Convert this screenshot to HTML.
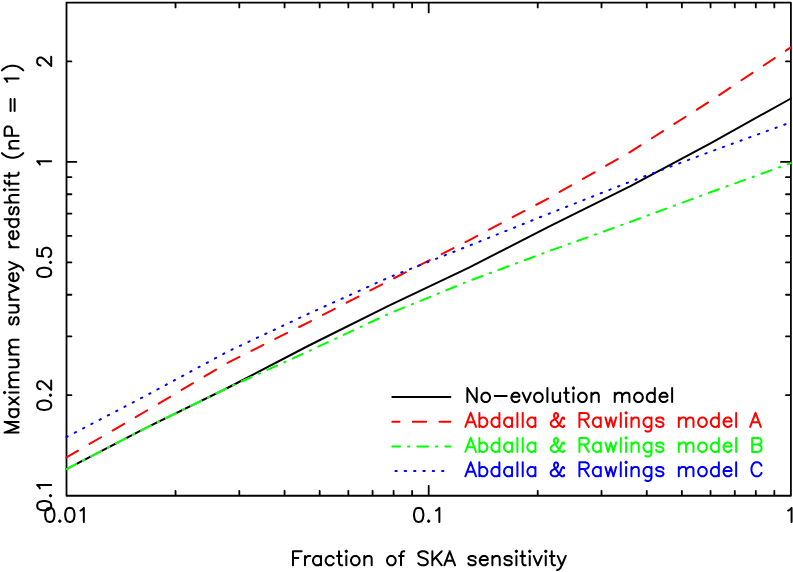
<!DOCTYPE html>
<html lang="en"><head><meta charset="utf-8"><title>Maximum survey redshift vs fraction of SKA sensitivity</title>
<style>html,body{margin:0;padding:0;background:#fff}body{width:793px;height:572px;overflow:hidden;font-family:"Liberation Sans",sans-serif}svg{display:block}.t{font-family:"Liberation Sans",sans-serif;fill:#000;fill-opacity:0;stroke:none}</style></head><body>
<svg width="793" height="572" viewBox="0 0 793 572">
<rect width="793" height="572" fill="#fff"/>
<path d="M66.5 2.55H790.9V495.75H66.5ZM175.53 495.75v-4.9M175.53 2.55v4.9M239.31 495.75v-4.9M239.31 2.55v4.9M284.57 495.75v-4.9M284.57 2.55v4.9M319.67 495.75v-4.9M319.67 2.55v4.9M348.35 495.75v-4.9M348.35 2.55v4.9M372.59 495.75v-4.9M372.59 2.55v4.9M393.6 495.75v-4.9M393.6 2.55v4.9M412.13 495.75v-4.9M412.13 2.55v4.9M428.7 495.75v-9.9M428.7 2.55v9.9M537.73 495.75v-4.9M537.73 2.55v4.9M601.51 495.75v-4.9M601.51 2.55v4.9M646.77 495.75v-4.9M646.77 2.55v4.9M681.87 495.75v-4.9M681.87 2.55v4.9M710.55 495.75v-4.9M710.55 2.55v4.9M734.79 495.75v-4.9M734.79 2.55v4.9M755.8 495.75v-4.9M755.8 2.55v4.9M774.33 495.75v-4.9M774.33 2.55v4.9M66.5 395.22h4.9M790.9 395.22h-4.9M66.5 336.44h4.9M790.9 336.44h-4.9M66.5 294.73h4.9M790.9 294.73h-4.9M66.5 262.38h4.9M790.9 262.38h-4.9M66.5 235.95h4.9M790.9 235.95h-4.9M66.5 213.61h4.9M790.9 213.61h-4.9M66.5 194.25h4.9M790.9 194.25h-4.9M66.5 177.17h4.9M790.9 177.17h-4.9M66.5 161.9h9.9M790.9 161.9h-9.9M66.5 61.42h4.9M790.9 61.42h-4.9" fill="none" stroke="#000" stroke-width="1.8" stroke-linecap="round" stroke-linejoin="round"/>
<defs><clipPath id="c"><rect x="66.5" y="2.55" width="724.4" height="493.2"/></clipPath></defs>
<g fill="none" stroke-width="2" stroke-linecap="round" stroke-linejoin="round">
<mask id="m" maskUnits="userSpaceOnUse" x="0" y="0" width="793" height="572"><rect width="793" height="572" fill="#fff"/><path d="M66.5 469.1L146.99 427.4L227.48 388L307.97 351.5L388.46 313.9L468.94 281L549.43 251L629.92 222L710.41 192.3L790.9 163.1" stroke="#000" stroke-dasharray="10.67 8 1.33 8"/></mask>
<path d="M66.5 469.1L146.99 427.4L227.48 388L307.97 346L388.46 305.8L468.94 267.6L549.43 226.3L629.92 186.3L710.41 143.3L790.9 98.5" stroke="#000" mask="url(#m)"/>
<path d="M66.5 457.4L146.99 410.5L227.48 362.8L307.97 322.6L388.46 281.1L468.94 240.3L549.43 197.8L629.92 152.2L710.41 101L790.9 47.3" stroke="#f00" stroke-dasharray="13.34 13.34"/>
<path d="M66.5 469.1L146.99 427.4L227.48 388L307.97 351.5L388.46 313.9L468.94 281L549.43 251L629.92 222L710.41 192.3L790.9 163.1" stroke="#0f0" stroke-dasharray="10.67 8 1.33 8"/>
<path d="M66.5 437L146.99 395.1L227.48 351.7L307.97 314L388.46 277.6L468.94 245.8L549.43 213.5L629.92 181.8L710.41 151.7L790.9 122.3" stroke="#00f" stroke-dasharray="1.33 8"/>
</g>
<g fill="none" stroke-width="2" stroke-linecap="round">
<path d="M392.3 397H450.4" stroke="#000"/>
<path d="M392.3 421.7H450.4" stroke="#f00" stroke-dasharray="13.34 13.34" stroke-dashoffset="6.2"/>
<path d="M392.3 446.6H450.4" stroke="#0f0" stroke-dasharray="10.67 8 1.33 8" stroke-dashoffset="3"/>
<path d="M392.3 471H450.4" stroke="#00f" stroke-dasharray="1.33 8" stroke-dashoffset="6.2"/>
</g>
<g fill="none" stroke-width="2" stroke-linecap="round" stroke-linejoin="round">
<path d="M49.16 507.89L47.16 508.56L45.82 510.56L45.16 513.9L45.16 515.9L45.82 519.23L47.16 521.23L49.16 521.9L50.49 521.9L52.49 521.23L53.83 519.23L54.49 515.9L54.49 513.9L53.83 510.56L52.49 508.56L50.49 507.89L49.16 507.89M59.83 520.57L59.16 521.23L59.83 521.9L60.5 521.23L59.83 520.57M69.17 507.89L67.17 508.56L65.83 510.56L65.17 513.9L65.17 515.9L65.83 519.23L67.17 521.23L69.17 521.9L70.5 521.9L72.5 521.23L73.84 519.23L74.5 515.9L74.5 513.9L73.84 510.56L72.5 508.56L70.5 507.89L69.17 507.89M80.51 510.56L81.84 509.89L83.84 507.89L83.84 521.9" stroke="#000"/>
<path d="M418.03 507.89L416.03 508.56L414.69 510.56L414.03 513.9L414.03 515.9L414.69 519.23L416.03 521.23L418.03 521.9L419.36 521.9L421.36 521.23L422.7 519.23L423.36 515.9L423.36 513.9L422.7 510.56L421.36 508.56L419.36 507.89L418.03 507.89M428.7 520.57L428.03 521.23L428.7 521.9L429.37 521.23L428.7 520.57M436.04 510.56L437.37 509.89L439.37 507.89L439.37 521.9" stroke="#000"/>
<path d="M788.23 510.56L789.57 509.89L791.57 507.89L791.57 521.9" stroke="#000"/>
<path d="M37.19 506.37L37.86 508.37L39.86 509.71L43.2 510.37L45.2 510.37L48.53 509.71L50.53 508.37L51.2 506.37L51.2 505.04L50.53 503.04L48.53 501.7L45.2 501.04L43.2 501.04L39.86 501.7L37.86 503.04L37.19 505.04L37.19 506.37M49.87 495.7L50.53 496.37L51.2 495.7L50.53 495.03L49.87 495.7M39.86 488.36L39.19 487.03L37.19 485.03L51.2 485.03" stroke="#000"/>
<path d="M37.19 405.89L37.86 407.89L39.86 409.22L43.2 409.89L45.2 409.89L48.53 409.22L50.53 407.89L51.2 405.89L51.2 404.55L50.53 402.55L48.53 401.22L45.2 400.55L43.2 400.55L39.86 401.22L37.86 402.55L37.19 404.55L37.19 405.89M49.87 395.22L50.53 395.88L51.2 395.22L50.53 394.55L49.87 395.22M40.53 389.21L39.86 389.21L38.53 388.55L37.86 387.88L37.19 386.55L37.19 383.88L37.86 382.54L38.53 381.88L39.86 381.21L41.2 381.21L42.53 381.88L44.53 383.21L51.2 389.88L51.2 380.54" stroke="#000"/>
<path d="M37.19 273.06L37.86 275.06L39.86 276.39L43.2 277.06L45.2 277.06L48.53 276.39L50.53 275.06L51.2 273.06L51.2 271.72L50.53 269.72L48.53 268.39L45.2 267.72L43.2 267.72L39.86 268.39L37.86 269.72L37.19 271.72L37.19 273.06M49.87 262.38L50.53 263.05L51.2 262.38L50.53 261.72L49.87 262.38M37.19 249.04L37.19 255.71L43.2 256.38L42.53 255.71L41.86 253.71L41.86 251.71L42.53 249.71L43.86 248.38L45.86 247.71L47.2 247.71L49.2 248.38L50.53 249.71L51.2 251.71L51.2 253.71L50.53 255.71L49.87 256.38L48.53 257.05" stroke="#000"/>
<path d="M39.86 164.57L39.19 163.23L37.19 161.23L51.2 161.23" stroke="#000"/>
<path d="M40.53 65.42L39.86 65.42L38.53 64.75L37.86 64.08L37.19 62.75L37.19 60.08L37.86 58.75L38.53 58.08L39.86 57.41L41.2 57.41L42.53 58.08L44.53 59.42L51.2 66.09L51.2 56.75" stroke="#000"/>
<path d="M292.97 551.29L292.97 565.3M292.97 551.29L301.64 551.29M292.97 557.96L298.3 557.96M304.97 555.96L304.97 565.3M304.97 559.96L305.64 557.96L306.97 556.63L308.31 555.96L310.31 555.96M320.98 555.96L320.98 565.3M320.98 557.96L319.65 556.63L318.31 555.96L316.31 555.96L314.98 556.63L313.64 557.96L312.98 559.96L312.98 561.3L313.64 563.3L314.98 564.63L316.31 565.3L318.31 565.3L319.65 564.63L320.98 563.3M333.65 557.96L332.32 556.63L330.98 555.96L328.98 555.96L327.65 556.63L326.32 557.96L325.65 559.96L325.65 561.3L326.32 563.3L327.65 564.63L328.98 565.3L330.98 565.3L332.32 564.63L333.65 563.3M338.99 551.29L338.99 562.63L339.66 564.63L340.99 565.3L342.32 565.3M336.99 555.96L341.66 555.96M345.66 551.29L346.33 551.96L346.99 551.29L346.33 550.63L345.66 551.29M346.33 555.96L346.33 565.3M354.33 555.96L353 556.63L351.66 557.96L350.99 559.96L350.99 561.3L351.66 563.3L353 564.63L354.33 565.3L356.33 565.3L357.66 564.63L359 563.3L359.67 561.3L359.67 559.96L359 557.96L357.66 556.63L356.33 555.96L354.33 555.96M364.33 555.96L364.33 565.3M364.33 558.63L366.34 556.63L367.67 555.96L369.67 555.96L371 556.63L371.67 558.63L371.67 565.3M390.35 555.96L389.01 556.63L387.68 557.96L387.01 559.96L387.01 561.3L387.68 563.3L389.01 564.63L390.35 565.3L392.35 565.3L393.68 564.63L395.02 563.3L395.68 561.3L395.68 559.96L395.02 557.96L393.68 556.63L392.35 555.96L390.35 555.96M404.35 551.29L403.02 551.29L401.69 551.96L401.02 553.96L401.02 565.3M399.02 555.96L403.69 555.96M427.7 553.29L426.37 551.96L424.36 551.29L421.7 551.29L419.7 551.96L418.36 553.29L418.36 554.63L419.03 555.96L419.7 556.63L421.03 557.3L425.03 558.63L426.37 559.3L427.03 559.96L427.7 561.3L427.7 563.3L426.37 564.63L424.36 565.3L421.7 565.3L419.7 564.63L418.36 563.3M432.37 551.29L432.37 565.3M441.71 551.29L432.37 560.63M435.7 557.3L441.71 565.3M449.71 551.29L444.37 565.3M449.71 551.29L455.05 565.3M446.38 560.63L453.05 560.63M475.72 557.96L475.06 556.63L473.06 555.96L471.05 555.96L469.05 556.63L468.39 557.96L469.05 559.3L470.39 559.96L473.72 560.63L475.06 561.3L475.72 562.63L475.72 563.3L475.06 564.63L473.06 565.3L471.05 565.3L469.05 564.63L468.39 563.3M479.73 559.96L487.73 559.96L487.73 558.63L487.06 557.3L486.4 556.63L485.06 555.96L483.06 555.96L481.73 556.63L480.39 557.96L479.73 559.96L479.73 561.3L480.39 563.3L481.73 564.63L483.06 565.3L485.06 565.3L486.4 564.63L487.73 563.3M492.4 555.96L492.4 565.3M492.4 558.63L494.4 556.63L495.73 555.96L497.73 555.96L499.07 556.63L499.74 558.63L499.74 565.3M511.74 557.96L511.07 556.63L509.07 555.96L507.07 555.96L505.07 556.63L504.4 557.96L505.07 559.3L506.41 559.96L509.74 560.63L511.07 561.3L511.74 562.63L511.74 563.3L511.07 564.63L509.07 565.3L507.07 565.3L505.07 564.63L504.4 563.3M515.74 551.29L516.41 551.96L517.08 551.29L516.41 550.63L515.74 551.29M516.41 555.96L516.41 565.3M522.41 551.29L522.41 562.63L523.08 564.63L524.41 565.3L525.75 565.3M520.41 555.96L525.08 555.96M529.08 551.29L529.75 551.96L530.42 551.29L529.75 550.63L529.08 551.29M529.75 555.96L529.75 565.3M533.75 555.96L537.75 565.3M541.76 555.96L537.75 565.3M545.09 551.29L545.76 551.96L546.43 551.29L545.76 550.63L545.09 551.29M545.76 555.96L545.76 565.3M551.76 551.29L551.76 562.63L552.43 564.63L553.76 565.3L555.1 565.3M549.76 555.96L554.43 555.96M557.76 555.96L561.77 565.3M565.77 555.96L561.77 565.3L560.43 567.97L559.1 569.3L557.76 569.97L557.1 569.97" stroke="#000"/>
<path d="M4.59 432.58L18.6 432.58M4.59 432.58L18.6 427.24M4.59 421.9L18.6 427.24M4.59 421.9L18.6 421.9M9.26 409.23L18.6 409.23M11.26 409.23L9.93 410.56L9.26 411.9L9.26 413.9L9.93 415.23L11.26 416.57L13.26 417.23L14.6 417.23L16.6 416.57L17.93 415.23L18.6 413.9L18.6 411.9L17.93 410.56L16.6 409.23M9.26 404.56L18.6 397.22M9.26 397.22L18.6 404.56M4.59 393.22L5.26 392.56L4.59 391.89L3.93 392.56L4.59 393.22M9.26 392.56L18.6 392.56M9.26 387.22L18.6 387.22M11.93 387.22L9.93 385.22L9.26 383.88L9.26 381.88L9.93 380.55L11.93 379.88L18.6 379.88M11.93 379.88L9.93 377.88L9.26 376.55L9.26 374.55L9.93 373.21L11.93 372.55L18.6 372.55M9.26 367.21L15.93 367.21L17.93 366.54L18.6 365.21L18.6 363.21L17.93 361.87L15.93 359.87M9.26 359.87L18.6 359.87M9.26 354.54L18.6 354.54M11.93 354.54L9.93 352.54L9.26 351.2L9.26 349.2L9.93 347.87L11.93 347.2L18.6 347.2M11.93 347.2L9.93 345.2L9.26 343.86L9.26 341.86L9.93 340.53L11.93 339.86L18.6 339.86M11.26 317.18L9.93 317.85L9.26 319.85L9.26 321.85L9.93 323.85L11.26 324.52L12.6 323.85L13.26 322.52L13.93 319.19L14.6 317.85L15.93 317.18L16.6 317.18L17.93 317.85L18.6 319.85L18.6 321.85L17.93 323.85L16.6 324.52M9.26 312.52L15.93 312.52L17.93 311.85L18.6 310.51L18.6 308.51L17.93 307.18L15.93 305.18M9.26 305.18L18.6 305.18M9.26 299.84L18.6 299.84M13.26 299.84L11.26 299.18L9.93 297.84L9.26 296.51L9.26 294.51M9.26 292.51L18.6 288.5M9.26 284.5L18.6 288.5M13.26 281.17L13.26 273.16L11.93 273.16L10.6 273.83L9.93 274.5L9.26 275.83L9.26 277.83L9.93 279.17L11.26 280.5L13.26 281.17L14.6 281.17L16.6 280.5L17.93 279.17L18.6 277.83L18.6 275.83L17.93 274.5L16.6 273.16M9.26 269.83L18.6 265.83M9.26 261.82L18.6 265.83L21.27 267.16L22.6 268.49L23.27 269.83L23.27 270.49M9.26 247.15L18.6 247.15M13.26 247.15L11.26 246.48L9.93 245.15L9.26 243.81L9.26 241.81M13.26 239.15L13.26 231.14L11.93 231.14L10.6 231.81L9.93 232.48L9.26 233.81L9.26 235.81L9.93 237.14L11.26 238.48L13.26 239.15L14.6 239.15L16.6 238.48L17.93 237.14L18.6 235.81L18.6 233.81L17.93 232.48L16.6 231.14M4.59 219.14L18.6 219.14M11.26 219.14L9.93 220.47L9.26 221.8L9.26 223.8L9.93 225.14L11.26 226.47L13.26 227.14L14.6 227.14L16.6 226.47L17.93 225.14L18.6 223.8L18.6 221.8L17.93 220.47L16.6 219.14M11.26 207.13L9.93 207.8L9.26 209.8L9.26 211.8L9.93 213.8L11.26 214.47L12.6 213.8L13.26 212.47L13.93 209.13L14.6 207.8L15.93 207.13L16.6 207.13L17.93 207.8L18.6 209.8L18.6 211.8L17.93 213.8L16.6 214.47M4.59 202.46L18.6 202.46M11.93 202.46L9.93 200.46L9.26 199.13L9.26 197.12L9.93 195.79L11.93 195.12L18.6 195.12M4.59 190.45L5.26 189.79L4.59 189.12L3.93 189.79L4.59 190.45M9.26 189.79L18.6 189.79M4.59 180.45L4.59 181.78L5.26 183.12L7.26 183.78L18.6 183.78M9.26 185.79L9.26 181.12M4.59 175.78L15.93 175.78L17.93 175.11L18.6 173.78L18.6 172.45M9.26 177.78L9.26 173.11M1.93 153.1L3.26 154.44L5.26 155.77L7.93 157.1L11.26 157.77L13.93 157.77L17.27 157.1L19.93 155.77L21.94 154.44L23.27 153.1M9.26 148.43L18.6 148.43M11.93 148.43L9.93 146.43L9.26 145.1L9.26 143.1L9.93 141.76L11.93 141.1L18.6 141.1M4.59 135.76L18.6 135.76M4.59 135.76L4.59 129.76L5.26 127.76L5.93 127.09L7.26 126.42L9.26 126.42L10.6 127.09L11.26 127.76L11.93 129.76L11.93 135.76M10.6 111.08L10.6 99.08M14.6 111.08L14.6 99.08M7.26 81.73L6.59 80.4L4.59 78.4L18.6 78.4M1.93 70.39L3.26 69.06L5.26 67.73L7.93 66.39L11.26 65.73L13.93 65.73L17.27 66.39L19.93 67.73L21.94 69.06L23.27 70.39" stroke="#000"/>
<path d="M467.37 388.09L467.37 402.1M467.37 388.09L476.71 402.1M476.71 388.09L476.71 402.1M484.71 392.76L483.38 393.43L482.04 394.76L481.38 396.76L481.38 398.1L482.04 400.1L483.38 401.43L484.71 402.1L486.71 402.1L488.05 401.43L489.38 400.1L490.05 398.1L490.05 396.76L489.38 394.76L488.05 393.43L486.71 392.76L484.71 392.76M494.71 396.1L506.72 396.1M511.39 396.76L519.39 396.76L519.39 395.43L518.73 394.1L518.06 393.43L516.73 392.76L514.73 392.76L513.39 393.43L512.06 394.76L511.39 396.76L511.39 398.1L512.06 400.1L513.39 401.43L514.73 402.1L516.73 402.1L518.06 401.43L519.39 400.1M522.73 392.76L526.73 402.1M530.73 392.76L526.73 402.1M537.4 392.76L536.07 393.43L534.74 394.76L534.07 396.76L534.07 398.1L534.74 400.1L536.07 401.43L537.4 402.1L539.4 402.1L540.74 401.43L542.07 400.1L542.74 398.1L542.74 396.76L542.07 394.76L540.74 393.43L539.4 392.76L537.4 392.76M547.41 388.09L547.41 402.1M552.74 392.76L552.74 399.43L553.41 401.43L554.75 402.1L556.75 402.1L558.08 401.43L560.08 399.43M560.08 392.76L560.08 402.1M566.08 388.09L566.08 399.43L566.75 401.43L568.09 402.1L569.42 402.1M564.08 392.76L568.75 392.76M572.75 388.09L573.42 388.76L574.09 388.09L573.42 387.43L572.75 388.09M573.42 392.76L573.42 402.1M581.42 392.76L580.09 393.43L578.76 394.76L578.09 396.76L578.09 398.1L578.76 400.1L580.09 401.43L581.42 402.1L583.43 402.1L584.76 401.43L586.09 400.1L586.76 398.1L586.76 396.76L586.09 394.76L584.76 393.43L583.43 392.76L581.42 392.76M591.43 392.76L591.43 402.1M591.43 395.43L593.43 393.43L594.76 392.76L596.77 392.76L598.1 393.43L598.77 395.43L598.77 402.1M614.77 392.76L614.77 402.1M614.77 395.43L616.78 393.43L618.11 392.76L620.11 392.76L621.44 393.43L622.11 395.43L622.11 402.1M622.11 395.43L624.11 393.43L625.45 392.76L627.45 392.76L628.78 393.43L629.45 395.43L629.45 402.1M637.45 392.76L636.12 393.43L634.78 394.76L634.12 396.76L634.12 398.1L634.78 400.1L636.12 401.43L637.45 402.1L639.45 402.1L640.79 401.43L642.12 400.1L642.79 398.1L642.79 396.76L642.12 394.76L640.79 393.43L639.45 392.76L637.45 392.76M654.79 388.09L654.79 402.1M654.79 394.76L653.46 393.43L652.13 392.76L650.13 392.76L648.79 393.43L647.46 394.76L646.79 396.76L646.79 398.1L647.46 400.1L648.79 401.43L650.13 402.1L652.13 402.1L653.46 401.43L654.79 400.1M659.46 396.76L667.47 396.76L667.47 395.43L666.8 394.1L666.13 393.43L664.8 392.76L662.8 392.76L661.47 393.43L660.13 394.76L659.46 396.76L659.46 398.1L660.13 400.1L661.47 401.43L662.8 402.1L664.8 402.1L666.13 401.43L667.47 400.1M672.14 388.09L672.14 402.1" stroke="#000"/>
<path d="M470.7 412.89L465.37 426.9M470.7 412.89L476.04 426.9M467.37 422.23L474.04 422.23M479.37 412.89L479.37 426.9M479.37 419.56L480.71 418.23L482.04 417.56L484.04 417.56L485.38 418.23L486.71 419.56L487.38 421.56L487.38 422.9L486.71 424.9L485.38 426.23L484.04 426.9L482.04 426.9L480.71 426.23L479.37 424.9M499.38 412.89L499.38 426.9M499.38 419.56L498.05 418.23L496.72 417.56L494.71 417.56L493.38 418.23L492.05 419.56L491.38 421.56L491.38 422.9L492.05 424.9L493.38 426.23L494.71 426.9L496.72 426.9L498.05 426.23L499.38 424.9M512.06 417.56L512.06 426.9M512.06 419.56L510.72 418.23L509.39 417.56L507.39 417.56L506.05 418.23L504.72 419.56L504.05 421.56L504.05 422.9L504.72 424.9L506.05 426.23L507.39 426.9L509.39 426.9L510.72 426.23L512.06 424.9M517.39 412.89L517.39 426.9M522.73 412.89L522.73 426.9M535.4 417.56L535.4 426.9M535.4 419.56L534.07 418.23L532.73 417.56L530.73 417.56L529.4 418.23L528.06 419.56L527.4 421.56L527.4 422.9L528.06 424.9L529.4 426.23L530.73 426.9L532.73 426.9L534.07 426.23L535.4 424.9M564.08 418.9L564.08 418.23L563.42 417.56L562.75 417.56L562.08 418.23L561.41 419.56L560.08 422.9L558.75 424.9L557.41 426.23L556.08 426.9L553.41 426.9L552.08 426.23L551.41 425.57L550.74 424.23L550.74 422.9L551.41 421.56L552.08 420.9L556.75 418.23L557.41 417.56L558.08 416.23L558.08 414.89L557.41 413.56L556.08 412.89L554.75 413.56L554.08 414.89L554.08 416.23L554.75 418.23L556.08 420.23L559.41 424.9L560.75 426.23L562.08 426.9L563.42 426.9L564.08 426.23L564.08 425.57M579.42 412.89L579.42 426.9M579.42 412.89L585.43 412.89L587.43 413.56L588.1 414.23L588.76 415.56L588.76 416.89L588.1 418.23L587.43 418.9L585.43 419.56L579.42 419.56M584.09 419.56L588.76 426.9M600.77 417.56L600.77 426.9M600.77 419.56L599.43 418.23L598.1 417.56L596.1 417.56L594.76 418.23L593.43 419.56L592.76 421.56L592.76 422.9L593.43 424.9L594.76 426.23L596.1 426.9L598.1 426.9L599.43 426.23L600.77 424.9M605.44 417.56L608.11 426.9M610.77 417.56L608.11 426.9M610.77 417.56L613.44 426.9M616.11 417.56L613.44 426.9M620.78 412.89L620.78 426.9M625.45 412.89L626.11 413.56L626.78 412.89L626.11 412.23L625.45 412.89M626.11 417.56L626.11 426.9M631.45 417.56L631.45 426.9M631.45 420.23L633.45 418.23L634.78 417.56L636.79 417.56L638.12 418.23L638.79 420.23L638.79 426.9M651.46 417.56L651.46 428.23L650.79 430.23L650.13 430.9L648.79 431.57L646.79 431.57L645.46 430.9M651.46 419.56L650.13 418.23L648.79 417.56L646.79 417.56L645.46 418.23L644.12 419.56L643.46 421.56L643.46 422.9L644.12 424.9L645.46 426.23L646.79 426.9L648.79 426.9L650.13 426.23L651.46 424.9M663.47 419.56L662.8 418.23L660.8 417.56L658.8 417.56L656.8 418.23L656.13 419.56L656.8 420.9L658.13 421.56L661.47 422.23L662.8 422.9L663.47 424.23L663.47 424.9L662.8 426.23L660.8 426.9L658.8 426.9L656.8 426.23L656.13 424.9M678.81 417.56L678.81 426.9M678.81 420.23L680.81 418.23L682.14 417.56L684.14 417.56L685.48 418.23L686.14 420.23L686.14 426.9M686.14 420.23L688.14 418.23L689.48 417.56L691.48 417.56L692.81 418.23L693.48 420.23L693.48 426.9M701.49 417.56L700.15 418.23L698.82 419.56L698.15 421.56L698.15 422.9L698.82 424.9L700.15 426.23L701.49 426.9L703.49 426.9L704.82 426.23L706.15 424.9L706.82 422.9L706.82 421.56L706.15 419.56L704.82 418.23L703.49 417.56L701.49 417.56M718.83 412.89L718.83 426.9M718.83 419.56L717.49 418.23L716.16 417.56L714.16 417.56L712.82 418.23L711.49 419.56L710.82 421.56L710.82 422.9L711.49 424.9L712.82 426.23L714.16 426.9L716.16 426.9L717.49 426.23L718.83 424.9M723.5 421.56L731.5 421.56L731.5 420.23L730.83 418.9L730.17 418.23L728.83 417.56L726.83 417.56L725.5 418.23L724.16 419.56L723.5 421.56L723.5 422.9L724.16 424.9L725.5 426.23L726.83 426.9L728.83 426.9L730.17 426.23L731.5 424.9M736.17 412.89L736.17 426.9M755.51 412.89L750.18 426.9M755.51 412.89L760.85 426.9M752.18 422.23L758.85 422.23" stroke="#f00"/>
<path d="M470.7 437.89L465.37 451.9M470.7 437.89L476.04 451.9M467.37 447.23L474.04 447.23M479.37 437.89L479.37 451.9M479.37 444.56L480.71 443.23L482.04 442.56L484.04 442.56L485.38 443.23L486.71 444.56L487.38 446.56L487.38 447.9L486.71 449.9L485.38 451.23L484.04 451.9L482.04 451.9L480.71 451.23L479.37 449.9M499.38 437.89L499.38 451.9M499.38 444.56L498.05 443.23L496.72 442.56L494.71 442.56L493.38 443.23L492.05 444.56L491.38 446.56L491.38 447.9L492.05 449.9L493.38 451.23L494.71 451.9L496.72 451.9L498.05 451.23L499.38 449.9M512.06 442.56L512.06 451.9M512.06 444.56L510.72 443.23L509.39 442.56L507.39 442.56L506.05 443.23L504.72 444.56L504.05 446.56L504.05 447.9L504.72 449.9L506.05 451.23L507.39 451.9L509.39 451.9L510.72 451.23L512.06 449.9M517.39 437.89L517.39 451.9M522.73 437.89L522.73 451.9M535.4 442.56L535.4 451.9M535.4 444.56L534.07 443.23L532.73 442.56L530.73 442.56L529.4 443.23L528.06 444.56L527.4 446.56L527.4 447.9L528.06 449.9L529.4 451.23L530.73 451.9L532.73 451.9L534.07 451.23L535.4 449.9M564.08 443.9L564.08 443.23L563.42 442.56L562.75 442.56L562.08 443.23L561.41 444.56L560.08 447.9L558.75 449.9L557.41 451.23L556.08 451.9L553.41 451.9L552.08 451.23L551.41 450.57L550.74 449.23L550.74 447.9L551.41 446.56L552.08 445.9L556.75 443.23L557.41 442.56L558.08 441.23L558.08 439.89L557.41 438.56L556.08 437.89L554.75 438.56L554.08 439.89L554.08 441.23L554.75 443.23L556.08 445.23L559.41 449.9L560.75 451.23L562.08 451.9L563.42 451.9L564.08 451.23L564.08 450.57M579.42 437.89L579.42 451.9M579.42 437.89L585.43 437.89L587.43 438.56L588.1 439.23L588.76 440.56L588.76 441.89L588.1 443.23L587.43 443.9L585.43 444.56L579.42 444.56M584.09 444.56L588.76 451.9M600.77 442.56L600.77 451.9M600.77 444.56L599.43 443.23L598.1 442.56L596.1 442.56L594.76 443.23L593.43 444.56L592.76 446.56L592.76 447.9L593.43 449.9L594.76 451.23L596.1 451.9L598.1 451.9L599.43 451.23L600.77 449.9M605.44 442.56L608.11 451.9M610.77 442.56L608.11 451.9M610.77 442.56L613.44 451.9M616.11 442.56L613.44 451.9M620.78 437.89L620.78 451.9M625.45 437.89L626.11 438.56L626.78 437.89L626.11 437.23L625.45 437.89M626.11 442.56L626.11 451.9M631.45 442.56L631.45 451.9M631.45 445.23L633.45 443.23L634.78 442.56L636.79 442.56L638.12 443.23L638.79 445.23L638.79 451.9M651.46 442.56L651.46 453.23L650.79 455.23L650.13 455.9L648.79 456.57L646.79 456.57L645.46 455.9M651.46 444.56L650.13 443.23L648.79 442.56L646.79 442.56L645.46 443.23L644.12 444.56L643.46 446.56L643.46 447.9L644.12 449.9L645.46 451.23L646.79 451.9L648.79 451.9L650.13 451.23L651.46 449.9M663.47 444.56L662.8 443.23L660.8 442.56L658.8 442.56L656.8 443.23L656.13 444.56L656.8 445.9L658.13 446.56L661.47 447.23L662.8 447.9L663.47 449.23L663.47 449.9L662.8 451.23L660.8 451.9L658.8 451.9L656.8 451.23L656.13 449.9M678.81 442.56L678.81 451.9M678.81 445.23L680.81 443.23L682.14 442.56L684.14 442.56L685.48 443.23L686.14 445.23L686.14 451.9M686.14 445.23L688.14 443.23L689.48 442.56L691.48 442.56L692.81 443.23L693.48 445.23L693.48 451.9M701.49 442.56L700.15 443.23L698.82 444.56L698.15 446.56L698.15 447.9L698.82 449.9L700.15 451.23L701.49 451.9L703.49 451.9L704.82 451.23L706.15 449.9L706.82 447.9L706.82 446.56L706.15 444.56L704.82 443.23L703.49 442.56L701.49 442.56M718.83 437.89L718.83 451.9M718.83 444.56L717.49 443.23L716.16 442.56L714.16 442.56L712.82 443.23L711.49 444.56L710.82 446.56L710.82 447.9L711.49 449.9L712.82 451.23L714.16 451.9L716.16 451.9L717.49 451.23L718.83 449.9M723.5 446.56L731.5 446.56L731.5 445.23L730.83 443.9L730.17 443.23L728.83 442.56L726.83 442.56L725.5 443.23L724.16 444.56L723.5 446.56L723.5 447.9L724.16 449.9L725.5 451.23L726.83 451.9L728.83 451.9L730.17 451.23L731.5 449.9M736.17 437.89L736.17 451.9M752.18 437.89L752.18 451.9M752.18 437.89L758.18 437.89L760.18 438.56L760.85 439.23L761.51 440.56L761.51 441.89L760.85 443.23L760.18 443.9L758.18 444.56M752.18 444.56L758.18 444.56L760.18 445.23L760.85 445.9L761.51 447.23L761.51 449.23L760.85 450.57L760.18 451.23L758.18 451.9L752.18 451.9" stroke="#0f0"/>
<path d="M470.7 462.29L465.37 476.3M470.7 462.29L476.04 476.3M467.37 471.63L474.04 471.63M479.37 462.29L479.37 476.3M479.37 468.96L480.71 467.63L482.04 466.96L484.04 466.96L485.38 467.63L486.71 468.96L487.38 470.96L487.38 472.3L486.71 474.3L485.38 475.63L484.04 476.3L482.04 476.3L480.71 475.63L479.37 474.3M499.38 462.29L499.38 476.3M499.38 468.96L498.05 467.63L496.72 466.96L494.71 466.96L493.38 467.63L492.05 468.96L491.38 470.96L491.38 472.3L492.05 474.3L493.38 475.63L494.71 476.3L496.72 476.3L498.05 475.63L499.38 474.3M512.06 466.96L512.06 476.3M512.06 468.96L510.72 467.63L509.39 466.96L507.39 466.96L506.05 467.63L504.72 468.96L504.05 470.96L504.05 472.3L504.72 474.3L506.05 475.63L507.39 476.3L509.39 476.3L510.72 475.63L512.06 474.3M517.39 462.29L517.39 476.3M522.73 462.29L522.73 476.3M535.4 466.96L535.4 476.3M535.4 468.96L534.07 467.63L532.73 466.96L530.73 466.96L529.4 467.63L528.06 468.96L527.4 470.96L527.4 472.3L528.06 474.3L529.4 475.63L530.73 476.3L532.73 476.3L534.07 475.63L535.4 474.3M564.08 468.3L564.08 467.63L563.42 466.96L562.75 466.96L562.08 467.63L561.41 468.96L560.08 472.3L558.75 474.3L557.41 475.63L556.08 476.3L553.41 476.3L552.08 475.63L551.41 474.97L550.74 473.63L550.74 472.3L551.41 470.96L552.08 470.3L556.75 467.63L557.41 466.96L558.08 465.63L558.08 464.29L557.41 462.96L556.08 462.29L554.75 462.96L554.08 464.29L554.08 465.63L554.75 467.63L556.08 469.63L559.41 474.3L560.75 475.63L562.08 476.3L563.42 476.3L564.08 475.63L564.08 474.97M579.42 462.29L579.42 476.3M579.42 462.29L585.43 462.29L587.43 462.96L588.1 463.63L588.76 464.96L588.76 466.3L588.1 467.63L587.43 468.3L585.43 468.96L579.42 468.96M584.09 468.96L588.76 476.3M600.77 466.96L600.77 476.3M600.77 468.96L599.43 467.63L598.1 466.96L596.1 466.96L594.76 467.63L593.43 468.96L592.76 470.96L592.76 472.3L593.43 474.3L594.76 475.63L596.1 476.3L598.1 476.3L599.43 475.63L600.77 474.3M605.44 466.96L608.11 476.3M610.77 466.96L608.11 476.3M610.77 466.96L613.44 476.3M616.11 466.96L613.44 476.3M620.78 462.29L620.78 476.3M625.45 462.29L626.11 462.96L626.78 462.29L626.11 461.63L625.45 462.29M626.11 466.96L626.11 476.3M631.45 466.96L631.45 476.3M631.45 469.63L633.45 467.63L634.78 466.96L636.79 466.96L638.12 467.63L638.79 469.63L638.79 476.3M651.46 466.96L651.46 477.63L650.79 479.63L650.13 480.3L648.79 480.97L646.79 480.97L645.46 480.3M651.46 468.96L650.13 467.63L648.79 466.96L646.79 466.96L645.46 467.63L644.12 468.96L643.46 470.96L643.46 472.3L644.12 474.3L645.46 475.63L646.79 476.3L648.79 476.3L650.13 475.63L651.46 474.3M663.47 468.96L662.8 467.63L660.8 466.96L658.8 466.96L656.8 467.63L656.13 468.96L656.8 470.3L658.13 470.96L661.47 471.63L662.8 472.3L663.47 473.63L663.47 474.3L662.8 475.63L660.8 476.3L658.8 476.3L656.8 475.63L656.13 474.3M678.81 466.96L678.81 476.3M678.81 469.63L680.81 467.63L682.14 466.96L684.14 466.96L685.48 467.63L686.14 469.63L686.14 476.3M686.14 469.63L688.14 467.63L689.48 466.96L691.48 466.96L692.81 467.63L693.48 469.63L693.48 476.3M701.49 466.96L700.15 467.63L698.82 468.96L698.15 470.96L698.15 472.3L698.82 474.3L700.15 475.63L701.49 476.3L703.49 476.3L704.82 475.63L706.15 474.3L706.82 472.3L706.82 470.96L706.15 468.96L704.82 467.63L703.49 466.96L701.49 466.96M718.83 462.29L718.83 476.3M718.83 468.96L717.49 467.63L716.16 466.96L714.16 466.96L712.82 467.63L711.49 468.96L710.82 470.96L710.82 472.3L711.49 474.3L712.82 475.63L714.16 476.3L716.16 476.3L717.49 475.63L718.83 474.3M723.5 470.96L731.5 470.96L731.5 469.63L730.83 468.3L730.17 467.63L728.83 466.96L726.83 466.96L725.5 467.63L724.16 468.96L723.5 470.96L723.5 472.3L724.16 474.3L725.5 475.63L726.83 476.3L728.83 476.3L730.17 475.63L731.5 474.3M736.17 462.29L736.17 476.3M761.51 465.63L760.85 464.29L759.51 462.96L758.18 462.29L755.51 462.29L754.18 462.96L752.84 464.29L752.18 465.63L751.51 467.63L751.51 470.96L752.18 472.97L752.84 474.3L754.18 475.63L755.51 476.3L758.18 476.3L759.51 475.63L760.85 474.3L761.51 472.97" stroke="#00f"/>
</g>
<g><text class="t" font-size="19.8" x="43.16" y="521.9" textLength="46.69" lengthAdjust="spacingAndGlyphs">0.01</text><text class="t" font-size="19.8" x="412.02" y="521.9" textLength="33.35" lengthAdjust="spacingAndGlyphs">0.1</text><text class="t" font-size="19.8" x="784.23" y="521.9" textLength="13.34" lengthAdjust="spacingAndGlyphs">1</text><text class="t" font-size="19.8" transform="translate(51.2 512.38) rotate(-90)" textLength="33.35" lengthAdjust="spacingAndGlyphs">0.1</text><text class="t" font-size="19.8" transform="translate(51.2 411.89) rotate(-90)" textLength="33.35" lengthAdjust="spacingAndGlyphs">0.2</text><text class="t" font-size="19.8" transform="translate(51.2 279.06) rotate(-90)" textLength="33.35" lengthAdjust="spacingAndGlyphs">0.5</text><text class="t" font-size="19.8" transform="translate(51.2 168.57) rotate(-90)" textLength="13.34" lengthAdjust="spacingAndGlyphs">1</text><text class="t" font-size="19.8" transform="translate(51.2 68.09) rotate(-90)" textLength="13.34" lengthAdjust="spacingAndGlyphs">2</text><text class="t" font-size="19.8" x="290.3" y="565.3" textLength="276.81" lengthAdjust="spacingAndGlyphs">Fraction of SKA sensitivity</text><text class="t" font-size="19.8" transform="translate(18.6 435.24) rotate(-90)" textLength="372.19" lengthAdjust="spacingAndGlyphs">Maximum survey redshift (nP = 1)</text><text class="t" font-size="19.8" x="464.7" y="402.1" textLength="210.11" lengthAdjust="spacingAndGlyphs">No-evolution model</text><text class="t" font-size="19.8" x="464.7" y="426.9" textLength="296.81" lengthAdjust="spacingAndGlyphs">Abdalla &amp; Rawlings model A</text><text class="t" font-size="19.8" x="464.7" y="451.9" textLength="298.82" lengthAdjust="spacingAndGlyphs">Abdalla &amp; Rawlings model B</text><text class="t" font-size="19.8" x="464.7" y="476.3" textLength="298.82" lengthAdjust="spacingAndGlyphs">Abdalla &amp; Rawlings model C</text></g>
</svg></body></html>
